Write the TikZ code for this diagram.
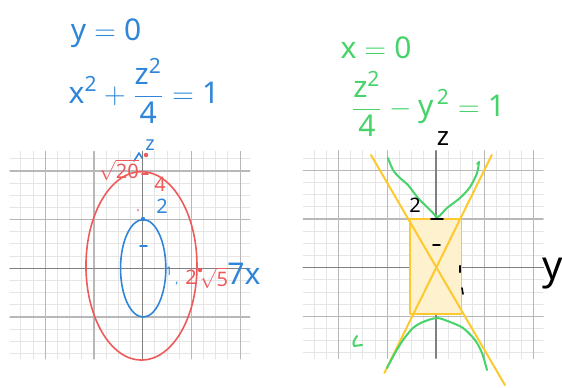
\documentclass[tikz,border=0pt]{standalone}
\usepackage{fontspec}
\setsansfont{Noto Sans}

\definecolor{penblue}{HTML}{2F86D8}
\definecolor{penred}{HTML}{EE5A5A}
\definecolor{pengreen}{HTML}{45D36A}
\definecolor{penyellow}{HTML}{FDC92E}
\definecolor{boxfill}{HTML}{FDF1CE}

\begin{document}
\begin{tikzpicture}[
  x=0.5pt, y=-0.5pt, line cap=round, line join=round,
  minor/.style={black!10, line width=0.5pt},
  major/.style={black!28, line width=0.6pt},
  axisline/.style={black!50, line width=0.7pt},
  hand/.style={font=\sffamily\fontsize{15}{18}\selectfont, inner sep=0pt},
  note/.style={font=\sffamily\fontsize{10}{12}\selectfont, inner sep=0pt},
  tiny/.style={font=\sffamily\fontsize{6}{7}\selectfont, inner sep=0pt},
  ink/.style={line width=0.8pt},
  dot/.style={circle, fill, inner sep=0pt, minimum size=2.2pt},
  paper/.pic={
    \foreach \i in {-10,...,8} \draw[minor] (\i/2,-3.72) -- (\i/2,4.8);
    \foreach \j in {-7,...,9} \draw[minor] (-5.45,\j/2) -- (4.4,\j/2);
    \foreach \i in {-4,-2,2,4} \draw[major] (\i,-3.72) -- (\i,4.8);
    \foreach \j in {-2,2,4} \draw[major] (-5.45,\j) -- (4.4,\j);
    \draw[axisline] (0,-3.72) -- (0,4.8);
    \draw[axisline] (-5.45,0) -- (4.4,0);}]

  \useasboundingbox (0,0) rectangle (562,387);
  \def\u{12.175pt}   % one unit = half a major square

  % ---- equations ---------------------------------------------------------
  \node[hand, text=penblue] (ycut) at (106,33) {$\mathsf{y=0}$};
  \node[hand, text=penblue] (ellipseq) at (144,91)
    {$\displaystyle\mathsf{x^2+\frac{z^2}{4}=1}$};
  \node[hand, text=pengreen] (xcut) at (376,48) {$\mathsf{x=0}$};
  \node[hand, text=pengreen] (hypeq) at (428,104)
    {$\displaystyle\mathsf{\frac{z^2}{4}-y^{\,2}=1}$};

  % ---- left: trace in y = 0 ----------------------------------------------
  \begin{scope}[xshift=71.35pt, yshift=-134.15pt, x=\u, y=\u]
    \pic at (0,0) {paper};
    \draw[penblue, ink] (0.02,0) ellipse [x radius=0.93, y radius=2];
    \draw[penred, ink] (-0.05,0.1) ellipse [x radius=2.28, y radius=3.87];
  \end{scope}

  \node[note, text=penblue] (zl) at (150,145) {$\mathsf{z}$};
  \draw[penblue, ink] (134,161) -- (139,153) -- (142,158);
  \node[dot, penred] (ztop) at (146,155) {};
  \node[note, text=penred] (rt20) at (119,170) {$\mathsf{\sqrt{20}}$};
  \draw[penred, ink] (142,174) -- (148,174);
  \node[note, text=penred] (four) at (160,184) {$\mathsf{4}$};
  \node[note, text=penblue] (twol) at (162,206) {$\mathsf{2}$};
  \node[dot, penred, minimum size=1pt] (spec) at (138,210) {};
  \node[dot, penblue] (zb) at (143,219) {};
  \draw[penblue, ink] (140,246) -- (147,246);
  \node[tiny, text=penblue] (onel) at (169,271) {1};
  \node[tiny, text=penblue] (comma) at (177,284) {,};
  \node[note, text=penred] (twor) at (191,277) {$\mathsf{2}$};
  \node[dot, penred] (xr) at (200,270) {};
  \node[note, text=penred] (rt5) at (214,278) {$\mathsf{\sqrt{5}}$};
  \node[hand, text=penblue] (xl) at (244,274) {$\mathsf{7x}$};

  % ---- right: trace in x = 0 ---------------------------------------------
  \begin{scope}[xshift=218pt, yshift=-133.85pt, x=\u, y=\u]
    \pic at (0,0) {paper};
    \draw[penyellow, fill=boxfill, line width=0.8pt]
      (-1.07,-1.91) rectangle (1.05,2.0);
    \draw[penyellow, line width=1pt] (-2.67,4.63) -- (2.83,-4.82);
    \draw[penyellow, line width=1pt] (2.29,4.63) -- (-2.12,-4.32);
  \end{scope}

  \draw[pengreen, line width=1pt] plot[smooth] coordinates {
    (388,158) (393,170) (400,178) (408,185) (418,198) (426,206)
    (433,213) (438,217) (447,208) (460,198) (470,187) (477,173) (479,162)};
  \draw[pengreen, line width=1pt] (479,162) -- (477,164);
  \draw[pengreen, line width=1pt] plot[smooth] coordinates {
    (387,368) (395,353) (403,340) (413,328) (423,322) (437,318)
    (450,322) (463,328) (475,340) (482,353) (487,370)};

  \node[note, font=\sffamily\fontsize{13}{15}\selectfont] (zr) at (443,139) {$\mathsf{z}$};
  \node[note] (twoh) at (415,205) {$\mathsf{2}$};
  \draw[line width=0.9pt] (431,219) -- (443,219);
  \draw[ink] (433,245) -- (440,245);
  \draw[line width=1.1pt] (460,266) -- (460,272);
  \draw[ink] (462,288) -- (463,294);
  \node[hand, font=\sffamily\fontsize{20}{22}\selectfont] (yr) at (553,274) {$\mathsf{y}$};
  \draw[pengreen, line width=1pt] (357,336) .. controls (353,342) .. (354,346) -- (362,345);
\end{tikzpicture}
\end{document}
